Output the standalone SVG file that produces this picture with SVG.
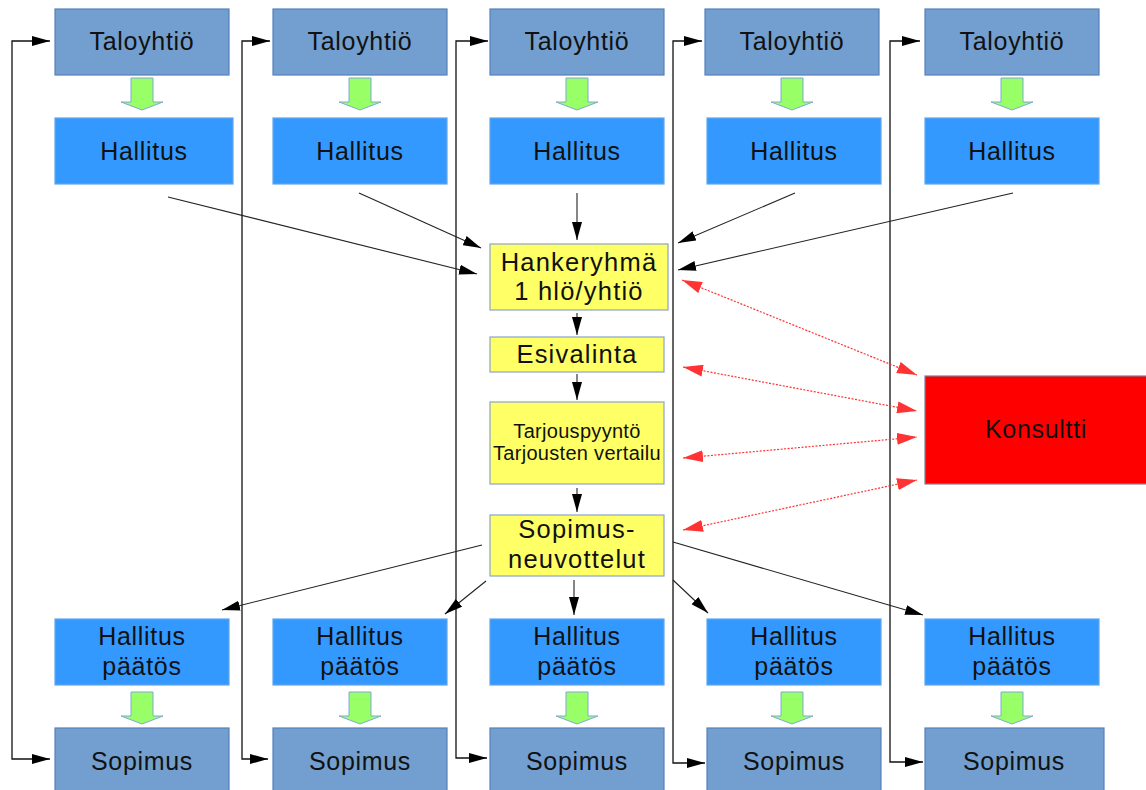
<svg xmlns="http://www.w3.org/2000/svg" width="1146" height="790" viewBox="0 0 1146 790">
  <style>
    .talo { fill: #729fcf; stroke: #5581bb; stroke-width: 1.2; }
    .hall { fill: #3399ff; stroke: #5fa6ec; stroke-width: 1.2; }
    .yel { fill: #ffff66; stroke: #8aa4c8; stroke-width: 1.2; }
    .red { fill: #ff0000; stroke: #7f7f99; stroke-width: 1.2; }
    .flow { fill: #99ff66; stroke: #7fa8d8; stroke-width: 1; }
    text { font-family: "Liberation Sans", Arial, sans-serif; fill: #111; text-anchor: middle; }
    .t25 { font-size: 25px; letter-spacing: 0.7px; }
    .t26 { font-size: 25.5px; letter-spacing: 1.2px; }
    .t20 { font-size: 20px; letter-spacing: 0.3px; }
    .blk { fill: none; stroke: #222; stroke-width: 1.1; }
    .loop { fill: none; stroke: #111; stroke-width: 1.3; marker-start: url(#ah); marker-end: url(#ah); }
    .arr { marker-end: url(#ah); }
    .dash { fill: none; stroke: #ff3333; stroke-width: 1.2; stroke-dasharray: 2 1.5; marker-start: url(#rh); marker-end: url(#rh); }
  </style>
  <defs>
    <marker id="ah" viewBox="0 0 18 10" refX="18" refY="5" markerWidth="18" markerHeight="10" markerUnits="userSpaceOnUse" orient="auto-start-reverse">
      <path d="M0,0 L18,5 L0,10 z" fill="#000"/>
    </marker>
    <marker id="rh" viewBox="0 0 20 12" refX="20" refY="6" markerWidth="20" markerHeight="12" markerUnits="userSpaceOnUse" orient="auto-start-reverse">
      <path d="M0,0 L20,6 L0,12 z" fill="#ff3333"/>
    </marker>
    <!-- green block arrow, origin at top centre -->
    <path id="down" class="flow" d="M-11,0 H11 V24 H21 L0,32 L-21,24 H-11 z"/>
  </defs>

  <!-- connectors -->
  <g id="connectors">
    <!-- loops from the left of each column: Taloyhtiö and Sopimus -->
    <path class="loop" d="M50,41 H12 V759 H50"/>
    <path class="loop" d="M270,41 H242 V759 H268"/>
    <path class="loop" d="M488,41 H456 V758 H487"/>
    <path class="loop" d="M702,41 H673 V763 H705"/>
    <path class="loop" d="M920,41 H890 V762 H923"/>

    <!-- Hallitus to Hankeryhmä -->
    <line class="blk arr" x1="168" y1="197" x2="477" y2="274"/>
    <line class="blk arr" x1="359" y1="193" x2="481" y2="248"/>
    <line class="blk arr" x1="577" y1="193" x2="577" y2="240"/>
    <line class="blk arr" x1="795" y1="193" x2="678" y2="243"/>
    <line class="blk arr" x1="1013" y1="193" x2="678" y2="270"/>

    <!-- centre chain -->
    <line class="blk arr" x1="577" y1="313" x2="577" y2="335"/>
    <line class="blk arr" x1="577" y1="374" x2="577" y2="400"/>
    <line class="blk arr" x1="577" y1="488" x2="577" y2="512"/>

    <!-- Sopimusneuvottelut to Hallitus päätös -->
    <line class="blk arr" x1="482" y1="545" x2="222" y2="610"/>
    <line class="blk arr" x1="486" y1="581" x2="445" y2="614"/>
    <line class="blk arr" x1="574" y1="580" x2="574" y2="615"/>
    <line class="blk arr" x1="673" y1="580" x2="708" y2="613"/>
    <line class="blk arr" x1="673" y1="542" x2="923" y2="615"/>

    <!-- Konsultti links -->
    <line class="dash" x1="682" y1="280" x2="917" y2="375"/>
    <line class="dash" x1="683" y1="367" x2="917" y2="411"/>
    <line class="dash" x1="683" y1="458" x2="917" y2="437"/>
    <line class="dash" x1="683" y1="530" x2="917" y2="480"/>

    <!-- block arrows -->
    <use href="#down" x="142" y="78"/>
    <use href="#down" x="360" y="78"/>
    <use href="#down" x="577" y="78"/>
    <use href="#down" x="792" y="78"/>
    <use href="#down" x="1012" y="78"/>
    <use href="#down" x="142" y="692"/>
    <use href="#down" x="360" y="692"/>
    <use href="#down" x="577" y="692"/>
    <use href="#down" x="792" y="692"/>
    <use href="#down" x="1012" y="692"/>
  </g>

  <!-- top row -->
  <g id="taloyhtio-1"><rect class="talo" x="55" y="9" width="174" height="66"/><text class="t25" x="142" y="50">Taloyhtiö</text></g>
  <g id="taloyhtio-2"><rect class="talo" x="273" y="9" width="174" height="66"/><text class="t25" x="360" y="50">Taloyhtiö</text></g>
  <g id="taloyhtio-3"><rect class="talo" x="490" y="9" width="174" height="66"/><text class="t25" x="577" y="50">Taloyhtiö</text></g>
  <g id="taloyhtio-4"><rect class="talo" x="705" y="9" width="174" height="66"/><text class="t25" x="792" y="50">Taloyhtiö</text></g>
  <g id="taloyhtio-5"><rect class="talo" x="925" y="9" width="174" height="66"/><text class="t25" x="1012" y="50">Taloyhtiö</text></g>

  <g id="hallitus-1"><rect class="hall" x="55" y="118" width="178" height="66"/><text class="t25" x="144" y="160">Hallitus</text></g>
  <g id="hallitus-2"><rect class="hall" x="273" y="118" width="174" height="66"/><text class="t25" x="360" y="160">Hallitus</text></g>
  <g id="hallitus-3"><rect class="hall" x="490" y="118" width="174" height="66"/><text class="t25" x="577" y="160">Hallitus</text></g>
  <g id="hallitus-4"><rect class="hall" x="707" y="118" width="174" height="66"/><text class="t25" x="794" y="160">Hallitus</text></g>
  <g id="hallitus-5"><rect class="hall" x="925" y="118" width="174" height="66"/><text class="t25" x="1012" y="160">Hallitus</text></g>

  <!-- centre column -->
  <g id="hankeryhma"><rect class="yel" x="490" y="244" width="178" height="66"/><text class="t26" x="579" y="271">Hankeryhmä</text><text class="t26" x="579" y="300">1 hlö/yhtiö</text></g>
  <g id="esivalinta"><rect class="yel" x="490" y="337" width="174" height="35"/><text class="t26" x="577" y="363">Esivalinta</text></g>
  <g id="tarjous"><rect class="yel" x="490" y="402" width="174" height="82"/><text class="t20" x="577" y="438">Tarjouspyyntö</text><text class="t20" x="577" y="460">Tarjousten vertailu</text></g>
  <g id="sopimusneuvottelut"><rect class="yel" x="490" y="515" width="174" height="61"/><text class="t26" x="577" y="538">Sopimus-</text><text class="t26" x="577" y="568">neuvottelut</text></g>

  <g id="konsultti"><rect class="red" x="925" y="376" width="225" height="108"/><text class="t25" x="1036" y="438">Konsultti</text></g>

  <!-- bottom rows -->
  <g id="paatos-1"><rect class="hall" x="55" y="619" width="174" height="66"/><text class="t25" x="142" y="645">Hallitus</text><text class="t25" x="142" y="675">päätös</text></g>
  <g id="paatos-2"><rect class="hall" x="273" y="619" width="174" height="66"/><text class="t25" x="360" y="645">Hallitus</text><text class="t25" x="360" y="675">päätös</text></g>
  <g id="paatos-3"><rect class="hall" x="490" y="619" width="174" height="66"/><text class="t25" x="577" y="645">Hallitus</text><text class="t25" x="577" y="675">päätös</text></g>
  <g id="paatos-4"><rect class="hall" x="707" y="619" width="174" height="66"/><text class="t25" x="794" y="645">Hallitus</text><text class="t25" x="794" y="675">päätös</text></g>
  <g id="paatos-5"><rect class="hall" x="925" y="619" width="174" height="66"/><text class="t25" x="1012" y="645">Hallitus</text><text class="t25" x="1012" y="675">päätös</text></g>

  <g id="sopimus-1"><rect class="talo" x="55" y="728" width="174" height="64"/><text class="t25" x="142" y="770">Sopimus</text></g>
  <g id="sopimus-2"><rect class="talo" x="273" y="728" width="174" height="64"/><text class="t25" x="360" y="770">Sopimus</text></g>
  <g id="sopimus-3"><rect class="talo" x="490" y="728" width="174" height="64"/><text class="t25" x="577" y="770">Sopimus</text></g>
  <g id="sopimus-4"><rect class="talo" x="707" y="728" width="174" height="64"/><text class="t25" x="794" y="770">Sopimus</text></g>
  <g id="sopimus-5"><rect class="talo" x="925" y="728" width="179" height="64"/><text class="t25" x="1014" y="770">Sopimus</text></g>
</svg>
